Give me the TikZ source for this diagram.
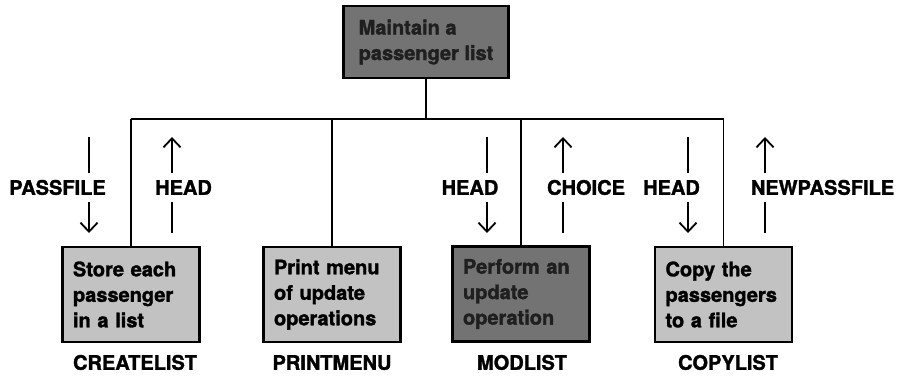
\documentclass[tikz,border=0pt]{standalone}
\usepackage{fontspec}
\setmainfont{TeX Gyre Heros}[BoldFeatures={FakeBold=1.6}]
\usetikzlibrary{arrows.meta}
\definecolor{lightfill}{gray}{0.76}
\definecolor{darkfill}{gray}{0.45}
\definecolor{darktext}{gray}{0.12}
\begin{document}
\begin{tikzpicture}[x=1pt,y=-1pt,
  boxfont/.style={font=\fontsize{20}{25.5}\selectfont\bfseries},
  taskbox/.style={boxfont, draw=black, line width=2.4pt, minimum width=137pt, minimum height=95pt,
    text width=116pt, inner xsep=10.5pt, inner ysep=0pt, align=left},
  topbox/.style={boxfont, draw=black, line width=2.6pt, minimum width=165pt, minimum height=72pt,
    align=left, fill=darkfill, text=darktext},
  lab/.style={font=\fontsize{20}{24}\selectfont\bfseries, text height=14.5pt, text depth=0pt,
    inner xsep=2pt, inner ysep=7pt},
  conn/.style={line width=1.8pt},
  flow/.style={line width=1.8pt, -{Straight Barb[length=9pt,width=17pt,line width=1.8pt]}}
]
\useasboundingbox (0,0) rectangle (909,375);

% top box
\node[topbox] (top) at (426,42) {Maintain a\\passenger list};

% child boxes
\node[taskbox, fill=lightfill] (c1) at (131,294.5) {Store each\\passenger\\in a list};
\node[taskbox, fill=lightfill] (c2) at (332,294.5) {Print menu\\of update\\operations};
\node[taskbox, fill=darkfill, text=darktext] (c3) at (521,294) {Perform an\\update\\operation};
\node[taskbox, fill=lightfill] (c4) at (723.5,294.5) {Copy the\\passengers\\to a file};

% module names
\node[lab] (n1) at (135,362.5) {CREATELIST};
\node[lab] (n2) at (332,362.5) {PRINTMENU};
\node[lab] (n3) at (522,362.5) {MODLIST};
\node[lab] (n4) at (728,362.5) {COPYLIST};

% tree connectors
\coordinate (bus) at (0,119);
\draw[conn] (top.south) -- (top.south |- bus);
\draw[conn] (c1.north |- bus) -- (c4.north |- bus);
\draw[conn] (c1.north |- bus) -- (c1.north);
\draw[conn] (c2.north |- bus) -- (c2.north);
\draw[conn] (c3.north |- bus) -- (c3.north);
\draw[conn] (c4.north |- bus) -- (c4.north);

% data flow labels
\node[lab] (l1) at (57.5,187.5) {PASSFILE};
\node[lab] (l2) at (183.5,187.5) {HEAD};
\node[lab] (l3) at (470,187.5) {HEAD};
\node[lab] (l4) at (586,187.5) {CHOICE};
\node[lab] (l5) at (671.5,187.5) {HEAD};
\node[lab] (l6) at (822.5,187.5) {NEWPASSFILE};

\coordinate (a1t) at (89,137);  \coordinate (a1b) at (89,233);
\coordinate (a2t) at (172,137); \coordinate (a2b) at (172,233);
\coordinate (a3t) at (487,137); \coordinate (a3b) at (487,233);
\coordinate (a4t) at (563,137); \coordinate (a4b) at (563,233);
\coordinate (a5t) at (688,137); \coordinate (a5b) at (688,233);
\coordinate (a6t) at (765,137); \coordinate (a6b) at (765,233);

% downward flows
\draw[conn] (a1t) -- (a1t |- l1.north);
\draw[flow] (a1t |- l1.south) -- (a1b);
\draw[conn] (a3t) -- (a3t |- l3.north);
\draw[flow] (a3t |- l3.south) -- (a3b);
\draw[conn] (a5t) -- (a5t |- l5.north);
\draw[flow] (a5t |- l5.south) -- (a5b);

% upward flows
\draw[flow] (a2t |- l2.north) -- (a2t);
\draw[conn] (a2t |- l2.south) -- (a2b);
\draw[flow] (a4t |- l4.north) -- (a4t);
\draw[conn] (a4t |- l4.south) -- (a4b);
\draw[flow] (a6t |- l6.north) -- (a6t);
\draw[conn] (a6t |- l6.south) -- (a6b);
\end{tikzpicture}
\end{document}
